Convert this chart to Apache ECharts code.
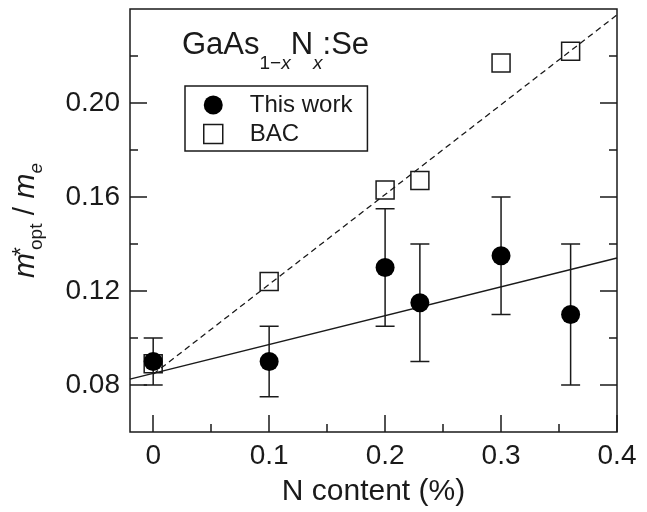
<!DOCTYPE html>
<html><head><meta charset="utf-8">
<script src="https://cdn.jsdelivr.net/npm/echarts@6/dist/echarts.min.js"></script>
<style>html,body{margin:0;padding:0;background:#fff}#c{width:647px;height:512px}</style>
</head><body><div id="c"></div>
<script>
// ---- data ----
const nContent   = [0, 0.1, 0.2, 0.23, 0.3, 0.36];
const thisWork   = [0.09, 0.09, 0.13, 0.115, 0.135, 0.11];
const errLow     = [0.08, 0.075, 0.105, 0.09, 0.11, 0.08];
const errHigh    = [0.10, 0.105, 0.155, 0.14, 0.16, 0.14];
const bac        = [0.089, 0.124, 0.163, 0.167, 0.217, 0.222];
const fitThisWorkX = [-0.02, 0.4];
const fitThisWorkY = [0.0825, 0.134];
const fitBacX      = [0, 0.4];
const fitBacY      = [0.0846, 0.2375];
const xMajorTicks = [0, 0.1, 0.2, 0.3, 0.4];
const xMinorTicks = [0.05, 0.15, 0.25, 0.35];
const yMajorTicks = [0.08, 0.12, 0.16, 0.20];
const yMinorTicks = [0.10, 0.14, 0.18, 0.22];
const seriesNames = ['This work', 'BAC'];

const FONT = "'Liberation Sans', Arial, Helvetica, sans-serif";
const INK = '#1a1a1a';
const chart = echarts.init(document.getElementById('c'), null, {renderer: 'canvas'});

function xLab(v){ return v === 0 ? '0' : String(+v.toFixed(2)); }
function yLab(v){ return v.toFixed(2); }

function yAxisDef(pos, ticks, len, labels) {
  return {
    type: 'value', min: 0.06, max: 0.24, position: pos,
    axisLine: {show: false, onZero: false},
    splitLine: {show: false},
    axisTick: {show: true, inside: true, length: len, customValues: ticks, lineStyle: {color: INK, width: 1.5}},
    axisLabel: labels ? {show: true, customValues: ticks, formatter: yLab, fontSize: 28, margin: 10, color: INK, fontFamily: FONT} : {show: false}
  };
}

const option = {
  animation: false,
  backgroundColor: '#fff',
  textStyle: {fontFamily: FONT},
  grid: {left: 130, right: 30, top: 9, bottom: 76, show: true, borderColor: INK, borderWidth: 1.5, backgroundColor: 'transparent'},
  title: {
    text: '{a|GaAs}{s|1−}{si|x}{a|N}{si|x}{a|:Se}',
    left: 182, top: 30, padding: 0,
    textStyle: {
      fontWeight: 'normal',
      rich: {
        a:  {fontSize: 31, fontWeight: 'normal', color: INK, fontFamily: FONT, verticalAlign: 'top'},
        s:  {fontSize: 19, fontWeight: 'normal', color: INK, fontFamily: FONT, verticalAlign: 'top', padding: [24, 0, 0, 0]},
        si: {fontSize: 19, fontWeight: 'normal', color: INK, fontFamily: FONT, fontStyle: 'italic', verticalAlign: 'top', padding: [24, 0, 0, 0]}
      }
    }
  },
  legend: {
    orient: 'vertical', left: 185, top: 86,
    padding: [7, 15, 5, 18],
    itemWidth: 19, itemHeight: 19, itemGap: 5,
    borderColor: INK, borderWidth: 1.5,
    selectedMode: false,
    textStyle: {fontSize: 24, color: INK, fontFamily: FONT, padding: [0, 0, 0, 22]},
    data: [
      {name: seriesNames[0], icon: 'circle', itemStyle: {color: '#000', borderWidth: 0, opacity: 1}},
      {name: seriesNames[1], icon: 'rect', itemStyle: {color: 'rgba(0,0,0,0)', borderColor: INK, borderWidth: 1.5, opacity: 1}}
    ]
  },
  xAxis: [
    {
      type: 'value', min: -0.02, max: 0.4, position: 'bottom',
      axisLine: {show: false, onZero: false}, splitLine: {show: false},
      axisTick: {show: true, inside: true, length: 17, customValues: xMajorTicks, lineStyle: {color: INK, width: 1.5}},
      axisLabel: {show: true, customValues: xMajorTicks, formatter: xLab, fontSize: 28, margin: 10, color: INK, fontFamily: FONT},
      name: 'N content (%)', nameLocation: 'middle', nameGap: 45,
      nameTextStyle: {fontSize: 30, color: INK, fontFamily: FONT}
    },
    {
      type: 'value', min: -0.02, max: 0.4, position: 'bottom',
      axisLine: {show: false, onZero: false}, splitLine: {show: false},
      axisTick: {show: true, inside: true, length: 8, customValues: xMinorTicks, lineStyle: {color: INK, width: 1.5}},
      axisLabel: {show: false}
    }
  ],
  yAxis: [
    Object.assign(yAxisDef('left', yMajorTicks, 17, true), {
      name: '{m|m}{sup|*}{sub|opt}{sl| / }{m|m}{subi|e}',
      nameLocation: 'middle', nameRotate: 90, nameGap: 84,
      nameTextStyle: {
        rich: {
          m:    {fontSize: 30, fontStyle: 'italic', color: INK, fontFamily: FONT, verticalAlign: 'top'},
          sup:  {fontSize: 23, color: INK, fontFamily: FONT, verticalAlign: 'top', width: 3, align: 'left'},
          sub:  {fontSize: 19, color: INK, fontFamily: FONT, verticalAlign: 'top', padding: [16, 0, 0, 0]},
          sl:   {fontSize: 30, color: INK, fontFamily: FONT, verticalAlign: 'top'},
          subi: {fontSize: 19, fontStyle: 'italic', color: INK, fontFamily: FONT, verticalAlign: 'top', padding: [16, 0, 0, 0]}
        }
      }
    }),
    yAxisDef('left', yMinorTicks, 8, false),
    yAxisDef('right', yMajorTicks, 17, false),
    yAxisDef('right', yMinorTicks, 8, false)
  ],
  series: [
    {
      type: 'line', name: 'fitThisWork', silent: true, symbol: 'none', z: 2,
      data: fitThisWorkX.map((x, i) => [x, fitThisWorkY[i]]),
      lineStyle: {color: INK, width: 1.5}
    },
    {
      type: 'line', name: 'fitBAC', silent: true, symbol: 'none', z: 2,
      data: fitBacX.map((x, i) => [x, fitBacY[i]]),
      lineStyle: {color: INK, width: 1.3, type: [6, 4]}
    },
    {
      type: 'custom', name: 'errorbars', silent: true, z: 3,
      encode: {x: 0, y: [1, 2]},
      data: nContent.map((x, i) => [x, errLow[i], errHigh[i]]),
      renderItem: function (params, api) {
        const x = api.value(0);
        const lo = api.coord([x, api.value(1)]);
        const hi = api.coord([x, api.value(2)]);
        const w = 9.5;
        const st = {stroke: INK, lineWidth: 1.5};
        return {
          type: 'group',
          children: [
            {type: 'line', shape: {x1: lo[0], y1: lo[1], x2: hi[0], y2: hi[1]}, style: st},
            {type: 'line', shape: {x1: lo[0] - w, y1: lo[1], x2: lo[0] + w, y2: lo[1]}, style: st},
            {type: 'line', shape: {x1: hi[0] - w, y1: hi[1], x2: hi[0] + w, y2: hi[1]}, style: st}
          ]
        };
      }
    },
    {
      type: 'scatter', name: seriesNames[1], symbol: 'rect', symbolSize: 18, z: 4,
      data: nContent.map((x, i) => [x, bac[i]]),
      itemStyle: {color: 'rgba(0,0,0,0)', borderColor: INK, borderWidth: 1.5, opacity: 1}
    },
    {
      type: 'scatter', name: seriesNames[0], symbol: 'circle', symbolSize: 19, z: 5,
      data: nContent.map((x, i) => [x, thisWork[i]]),
      itemStyle: {color: '#000', opacity: 1}
    }
  ]
};
chart.setOption(option);
</script>
</body></html>
